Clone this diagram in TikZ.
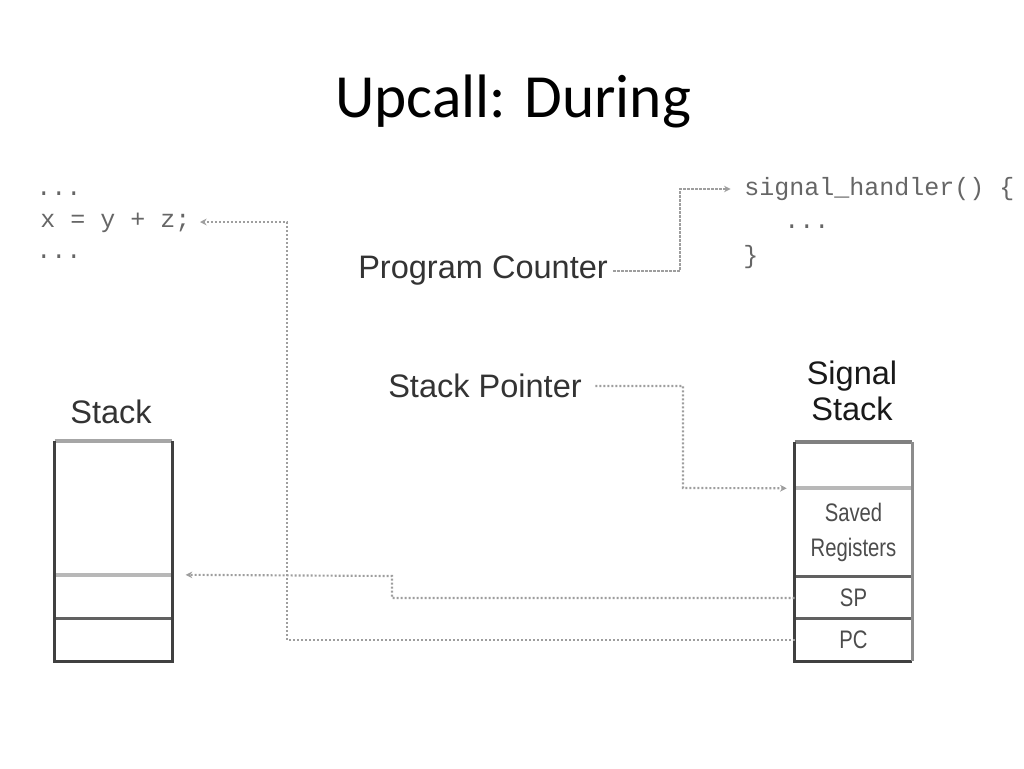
\documentclass[tikz,border=0pt]{standalone}
\usepackage{fontspec}
\setmainfont{Liberation Sans}
\newfontfamily\titlefont{Carlito}
\newfontfamily\codefont{Liberation Mono}
\usetikzlibrary{arrows.meta,calc}
\begin{document}
\begin{tikzpicture}[x=0.75pt,y=-0.75pt,
  lbl/.style={font=\fontsize{24.4}{27}\selectfont, text=black!80, inner sep=0pt},
  codetxt/.style={font=\codefont\fontsize{18.75}{22}\selectfont, text=black!60, inner sep=0pt, anchor=west},
  conn/.style={draw=black!38, line width=1.6pt, dash pattern=on 1.6pt off 1.4pt},
  arr/.style={-{Stealth[length=5pt,width=5pt]}},
  cell/.style={minimum width=87.75pt, inner sep=0pt, text=black!70, font=\fontsize{19}{26}\selectfont, align=center},
  dark/.style={draw=black!75, line width=2.2pt},
  lightln/.style={draw=black!28, line width=3pt},
  midln/.style={draw=black!62, line width=2pt}
]
\useasboundingbox (0,0) rectangle (1024,768);

% title
\node[font=\titlefont\fontsize{46}{50}\selectfont, anchor=base, inner sep=0pt] (title) at (513,117) {Upcall: During};

% code on the left
\node[codetxt] (dots1) at (36,194) {...};
\node[codetxt] (xcode) at (40,223) {x = y + z;};
\node[codetxt] (dots2) at (36,257) {...};
\coordinate (xend) at (200,222);

% signal handler code
\node[codetxt] (sh) at (744,189) {signal\_handler() \{};
\node[codetxt] (dots3) at (784,227) {...};
\node[codetxt] (brace) at (743,257) {\}};

% labels
\node[lbl, anchor=west] (pclbl) at (358,271) {Program Counter};
\node[lbl, anchor=west] (splbl) at (388,386) {Stack Pointer};
\node[lbl, anchor=base] (stklbl) at (111,423) {Stack};
\node[lbl, anchor=center, align=center, text=black!90] (sslbl) at (852,391) {Signal\\Stack};

% stack cells
\node[cell, minimum height=100.5pt] (stktop) at (113.5,508) {};
\node[cell, minimum height=33pt] (stkmid) at (113.5,597) {};
\node[cell, minimum height=31.5pt] (stkbot) at (113.5,640) {};

% signal stack cells
\node[cell, minimum height=34.5pt] (sigtop) at (853.5,465) {};
\node[cell, minimum height=66.75pt] (saved) at (853.5,532.5) {\scalebox{0.8}[1]{Saved}\\\scalebox{0.8}[1]{Registers}};
\node[cell, minimum height=31.5pt] (spc) at (853.5,598) {\scalebox{0.8}[1]{SP}};
\node[cell, minimum height=31.5pt] (pcc) at (853.5,640) {\scalebox{0.8}[1]{PC}};

% stack box
\draw[draw=black!35, line width=3pt] (stktop.north west) -- (stktop.north east);
\draw[lightln] (stkmid.north west) -- (stkmid.north east);
\draw[midln] (stkbot.north west) -- (stkbot.north east);
\draw[dark] (stktop.north west) -- (stkbot.south west) -- (stkbot.south east) -- (stktop.north east);

% signal stack box
\draw[draw=black!50, line width=3pt] (sigtop.north west) -- (sigtop.north east);
\draw[lightln] (saved.north west) -- (saved.north east);
\draw[midln] (spc.north west) -- (spc.north east);
\draw[midln] (pcc.north west) -- (pcc.north east);
\draw[dark] (sigtop.north west) -- (pcc.south west) -- (pcc.south east);
\draw[draw=black!45, line width=2.2pt] (pcc.south east) -- (sigtop.north east);

% connectors
\draw[conn,arr] (pcc.west) -| (287,222) -- (xend);
\draw[conn,arr,shorten >=10pt] (spc.west) -| (392,576) -- (stkmid.north east);
\draw[conn,arr,shorten <=4pt,shorten >=10pt] (pclbl.east) -| (680,189) -- (sh.west);
\draw[conn,arr,shorten <=10pt,shorten >=6pt] (splbl.east) -| (683,488) -- (sigtop.south west);
\end{tikzpicture}
\end{document}
